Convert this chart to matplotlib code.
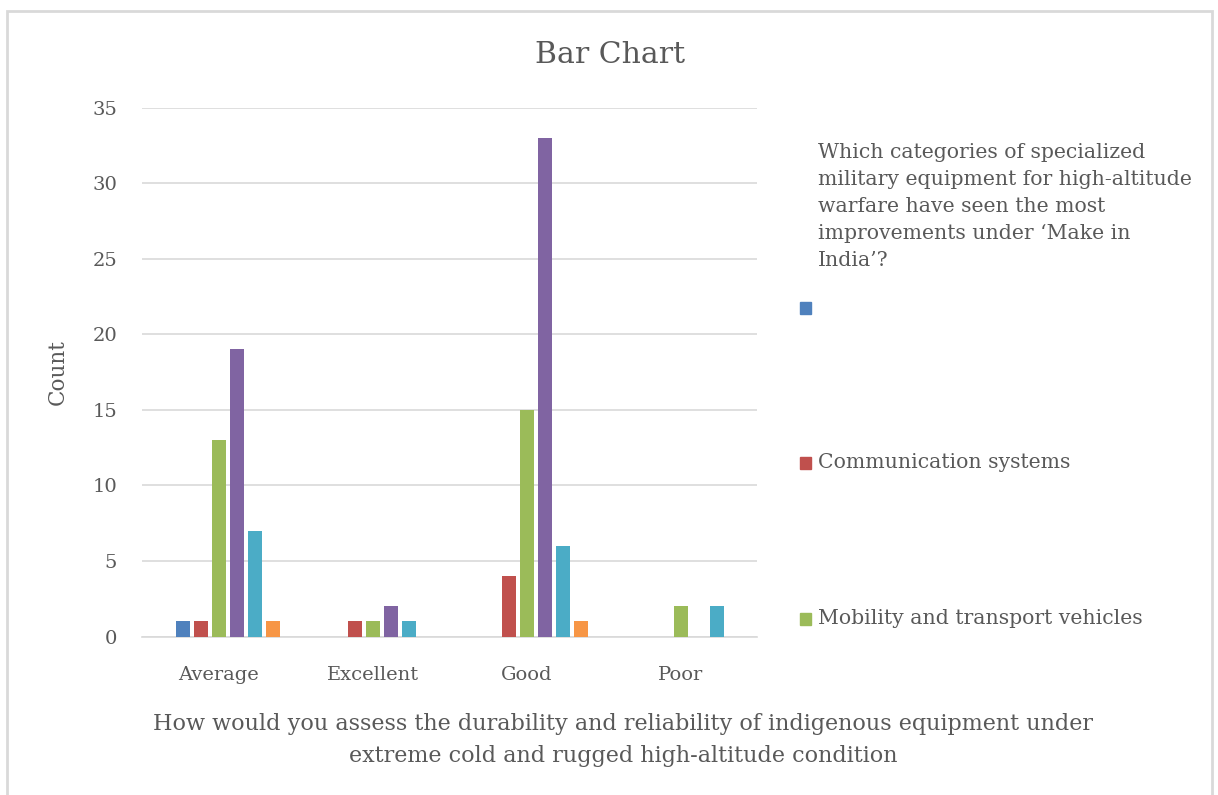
import matplotlib
matplotlib.use("Agg")
import matplotlib.pyplot as plt
from matplotlib.patches import Rectangle
import numpy as np

plt.rcParams['font.family'] = ['DejaVu Serif']

categories = ["Average", "Excellent", "Good", "Poor"]
question = ("Which categories of specialized\nmilitary equipment for high-altitude\n"
            "warfare have seen the most\nimprovements under \u2018Make in\nIndia\u2019?")
series_names = [question, "", "Communication systems", "Mobility and transport vehicles",
                "Protective clothing and gear", "Surveillance equipment", "Weapons systems"]
counts = [
    [0, 0, 0, 0],    # question header series, nothing drawn
    [1, 0, 0, 0],    # blank
    [1, 1, 4, 0],    # communication systems
    [13, 1, 15, 2],  # mobility and transport vehicles
    [19, 2, 33, 0],
    [7, 1, 6, 2],
    [1, 0, 1, 0],
]
colors = ["none", "#4F81BD", "#C0504D", "#9BBB59", "#8064A2", "#4BACC6", "#F79646"]
yticks = [0, 5, 10, 15, 20, 25, 30, 35]

xlabel = ("How would you assess the durability and reliability of indigenous equipment under\n"
          "extreme cold and rugged high-altitude condition")

txt = "#595959"
W, H = 1218, 795
fig = plt.figure(figsize=(W / 100, H / 100), dpi=100)

# outer chart frame
fig.patches.append(Rectangle((7 / W, -0.01), (1212 - 7) / W, 1 - 11 / H + 0.01,
                             transform=fig.transFigure, fill=False,
                             edgecolor="#D9D9D9", linewidth=2))

ax = fig.add_axes([142 / W, 1 - 636.5 / H, (757.5 - 142) / W, (636.5 - 107.5) / H])

x = np.arange(len(categories))
step = 0.117
width = 0.091
n = len(counts)
for i, vals in enumerate(counts):
    offs = (i - (n - 1) / 2) * step
    ax.bar(x + offs, vals, width=width, color=colors[i], linewidth=0, zorder=3)

ax.set_xlim(-0.5, len(categories) - 0.5)
ax.set_ylim(0, 35)
ax.set_yticks(yticks)
ax.set_xticks(x)
ax.set_xticklabels(categories)
ax.grid(axis="y", color="#D9D9D9", linewidth=1.2, zorder=0)
for s in ["top", "right", "left"]:
    ax.spines[s].set_visible(False)
ax.spines["bottom"].set_color("#D9D9D9")
ax.spines["bottom"].set_linewidth(1.2)
ax.tick_params(axis="both", length=0, labelsize=14, colors=txt)
ax.tick_params(axis="y", pad=18)
ax.tick_params(axis="x", pad=21)

fig.text(610 / W, 1 - 55 / H, "Bar Chart", ha="center", va="center", fontsize=21.5, color=txt)
fig.text(58 / W, 1 - 372 / H, "Count", ha="center", va="center", rotation=90,
         fontsize=15.5, color=txt)
fig.text(623 / W, 1 - 740 / H, xlabel, ha="center", va="center", fontsize=16,
         color=txt, linespacing=1.56)

# legend: header entry without a swatch, then the next visible entries
fig.text(818 / W, 1 - 143 / H, series_names[0], ha="left", va="top", fontsize=14.7,
         color=txt, linespacing=1.53)
entry_y = [308, 463, 619]
for k, yy in enumerate(entry_y):
    i = k + 1
    fig.patches.append(Rectangle((800 / W, 1 - (yy + 6) / H), 11 / W, 12 / H,
                                 transform=fig.transFigure, color=colors[i]))
    fig.text(818 / W, 1 - yy / H, series_names[i], ha="left", va="center",
             fontsize=14.7, color=txt)

fig.savefig("out.png", dpi=100)
